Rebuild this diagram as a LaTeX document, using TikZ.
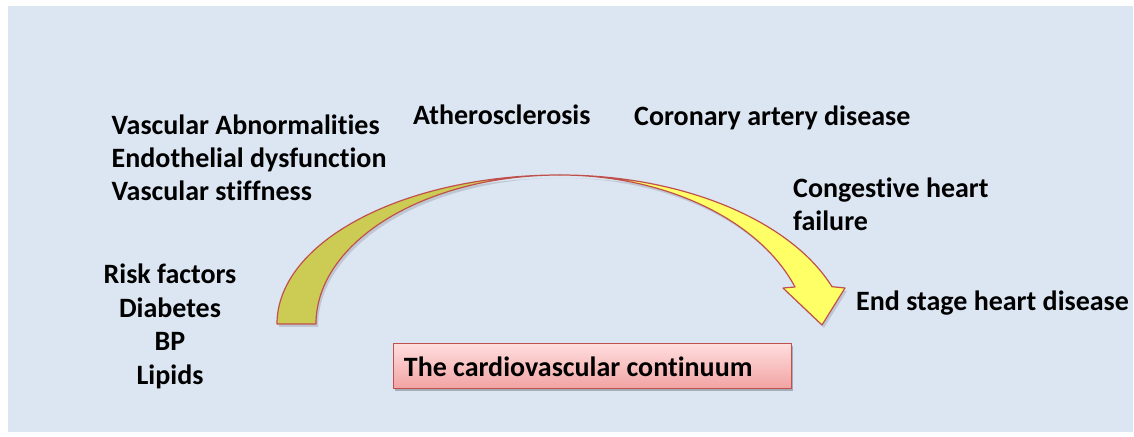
\documentclass[tikz,border=0pt]{standalone}
\usepackage{fontspec}
\setmainfont{Carlito}[Ligatures={NoCommon}]
\usetikzlibrary{shadows}
\definecolor{bgblue}{HTML}{DCE6F2}
\definecolor{olivef}{HTML}{CCCC55}
\definecolor{yellowf}{HTML}{FFFF66}
\definecolor{redline}{HTML}{C0504D}
\definecolor{boxtop}{HTML}{FFDEDE}
\definecolor{boxbot}{HTML}{F2A3A3}
\begin{document}
\begin{tikzpicture}[x=1pt,y=1pt,
  lbl/.style={inner sep=0pt, font=\fontsize{28}{33}\selectfont\bfseries, text=black},
  band/.style={draw=redline, line width=1.2pt, line join=round},
  shade/.style={fill=black, opacity=0.13}]
\useasboundingbox (0,0) rectangle (1134,436);
\fill[white] (0,0) rectangle (1134,436);
\fill[bgblue] (8,4) rectangle (1133,430);

% arrow shadow
\begin{scope}[shift={(2,-3)}]
  \fill[shade] (277,112) arc[start angle=180,end angle=90,x radius=283,y radius=149]
     arc[start angle=90,end angle=180,x radius=244,y radius=149] -- cycle;
  \fill[shade] (560,261) arc[start angle=90,end angle=20.3,x radius=290,y radius=171]
     -- (845,148) -- (822,111) -- (783,148) -- (795,149)
     arc[start angle=19.95,end angle=90,x radius=250,y radius=170] -- cycle;
\end{scope}
% back (olive) part of the arrow
\filldraw[band, fill=olivef] (277,112) arc[start angle=180,end angle=90,x radius=283,y radius=149]
   arc[start angle=90,end angle=180,x radius=244,y radius=149] -- cycle;
% front (yellow) part with head
\filldraw[band, fill=yellowf] (560,261) arc[start angle=90,end angle=20.3,x radius=290,y radius=171]
   -- (845,148) -- (822,111) -- (783,148) -- (795,149)
   arc[start angle=19.95,end angle=90,x radius=250,y radius=170] -- cycle;

% title box
\node[lbl, draw=redline, line width=0.8pt, top color=boxtop, bottom color=boxbot,
      drop shadow={shadow xshift=2pt, shadow yshift=-3pt, opacity=0.25, fill=black},
      anchor=north west, minimum width=398, minimum height=45,
      inner xsep=10.5, inner ysep=8.5, text height=24.5, text depth=3.5]
      (box) at (393,93) {\makebox[377pt][l]{The cardiovascular continuum}};

% labels
\node[lbl, anchor=base west] (va1) at (111.5,301) {Vascular Abnormalities};
\node[lbl, anchor=base west] (va2) at (111.5,268) {Endothelial dysfunction};
\node[lbl, anchor=base west] (va3) at (111.5,235) {Vascular stiffness};
\node[lbl, anchor=base west] (ath) at (413,311) {Atherosclerosis};
\node[lbl, anchor=base west] (cad) at (634,310) {Coronary artery disease};
\node[lbl, anchor=base west] (chf1) at (793,238) {Congestive heart};
\node[lbl, anchor=base west] (chf2) at (793,205) {failure};
\node[lbl, anchor=base west] (esh) at (856,125) {End stage heart disease};
\node[lbl, anchor=base] (rf) at (170,152) {Risk factors};
\node[lbl, anchor=base] (dia) at (170,118.5) {Diabetes};
\node[lbl, anchor=base] (bp) at (170,85) {BP};
\node[lbl, anchor=base] (lip) at (170,51.5) {Lipids};
\end{tikzpicture}
\end{document}
